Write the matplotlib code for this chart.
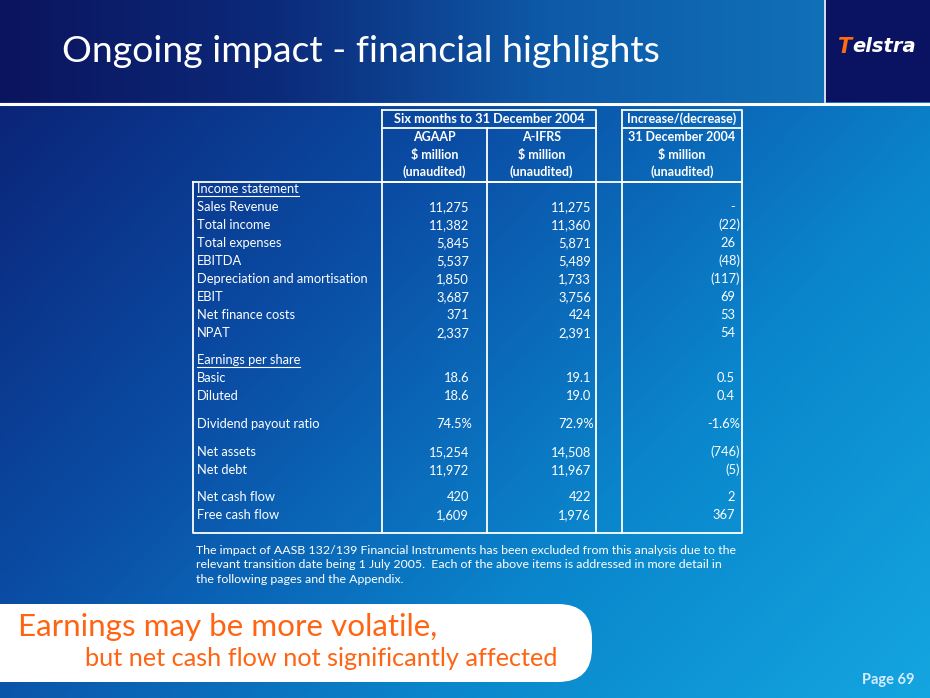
import numpy as np
import matplotlib
matplotlib.use("Agg")
import matplotlib.pyplot as plt
from matplotlib.colors import LinearSegmentedColormap
from matplotlib.patches import FancyBboxPatch, Rectangle

# ---------------- data ----------------
title = "Ongoing impact - financial highlights"
period_header = "Six months to 31 December 2004"
col_heads = [["AGAAP", "$ million", "(unaudited)"],
             ["A-IFRS", "$ million", "(unaudited)"]]
change_head = ["Increase/(decrease)", "31 December 2004", "$ million", "(unaudited)"]

labels = ["Income statement", "Sales Revenue", "Total income", "Total expenses", "EBITDA",
          "Depreciation and amortisation", "EBIT", "Net finance costs", "NPAT",
          "Earnings per share", "Basic", "Diluted", "Dividend payout ratio",
          "Net assets", "Net debt", "Net cash flow", "Free cash flow"]
section_rows = [0, 9]
agaap = ["", "11,275", "11,382", "5,845", "5,537", "1,850", "3,687", "371", "2,337",
         "", "18.6", "18.6", "74.5%", "15,254", "11,972", "420", "1,609"]
aifrs = ["", "11,275", "11,360", "5,871", "5,489", "1,733", "3,756", "424", "2,391",
         "", "19.1", "19.0", "72.9%", "14,508", "11,967", "422", "1,976"]
change = ["", "-", "(22)", "26", "(48)", "(117)", "69", "53", "54",
          "", "0.5", "0.4", "-1.6%", "(746)", "(5)", "2", "367"]

footnote = ("The impact of AASB 132/139 Financial Instruments has been excluded from this analysis due to the\n"
            "relevant transition date being 1 July 2005.  Each of the above items is addressed in more detail in\n"
            "the following pages and the Appendix.")
callout1 = "Earnings may be more volatile,"
callout2 = "but net cash flow not significantly affected"
page = "Page 69"

# ---------------- layout ----------------
W, H = 930, 698
FONT = "Lato"
fig = plt.figure(figsize=(W / 100, H / 100), dpi=100)
ax = fig.add_axes([0, 0, 1, 1])
ax.set_xlim(0, W)
ax.set_ylim(H, 0)
ax.axis("off")

# body gradient
yy, xx = np.mgrid[0:H:2, 0:W:2]
t = 0.62 * xx / W + 0.38 * (yy - 100) / (H - 100)
body_cmap = LinearSegmentedColormap.from_list("b", ["#0a2478", "#0b4ea6", "#0a86cc", "#14a6e0"])
ax.imshow(t, cmap=body_cmap, extent=[0, W, H, 0], vmin=0, vmax=1, zorder=0, aspect="auto")

# header gradient
hx = np.linspace(0, 1, 400)[None, :]
head_cmap = LinearSegmentedColormap.from_list("h", ["#0b145e", "#0c2a7a", "#0e5aa8", "#1070b8"])
ax.imshow(hx, cmap=head_cmap, extent=[0, 824, 102, 0], aspect="auto", zorder=1)
ax.add_patch(Rectangle((824, 0), W - 824, 102, facecolor="#0a1362", edgecolor="none", zorder=2))
ax.plot([824.5, 824.5], [0, 102], color="white", lw=1.2, zorder=3)
ax.plot([0, W], [104, 104], color="white", lw=2.2, zorder=3)

ax.text(62, 51, title, color="white", fontsize=26.9, family=FONT, fontweight="normal",
        va="center", ha="left", zorder=4)

fig.canvas.draw()
r = fig.canvas.get_renderer()

# logo
tT = ax.text(838, 47, "T", color="#ff6a13", fontsize=15, family="DejaVu Sans", fontweight="bold",
             style="italic", va="center", ha="left", zorder=4)
bbT = tT.get_window_extent(r)
ax.text(bbT.x1 + 0.5, 47, "elstra", color="white", fontsize=14, family="DejaVu Sans",
        fontweight="bold", style="italic", va="center", ha="left", zorder=4)

# table frame
lc = "white"
lw = 1.3
x_left, x_c1, x_c2, x_c3, x_c4, x_right = 193, 382, 487, 596, 622, 742
y_top_h, y_sub, y_body, y_bot = 110, 128, 182, 533

def box(x0, y0, x1, y1):
    ax.plot([x0, x1, x1, x0, x0], [y0, y0, y1, y1, y0], color=lc, lw=lw, zorder=5)

box(x_c1, y_top_h, x_c3, y_body)
box(x_c4, y_top_h, x_right, y_body)
ax.plot([x_c1, x_c3], [y_sub, y_sub], color=lc, lw=lw, zorder=5)
ax.plot([x_c4, x_right], [y_sub, y_sub], color=lc, lw=lw, zorder=5)
ax.plot([x_c2, x_c2], [y_sub, y_body], color=lc, lw=lw, zorder=5)
box(x_left, y_body, x_right, y_bot)
for xv in (x_c1, x_c2, x_c3, x_c4):
    ax.plot([xv, xv], [y_body, y_bot], color=lc, lw=lw, zorder=5)

hs = 9.0
ax.text((x_c1 + x_c3) / 2, 119, period_header, color="white", fontsize=hs + 0.2, family=FONT,
        fontweight="bold", ha="center", va="center", zorder=6)
head_y = [137, 155, 172]
for ci, cx in enumerate([(x_c1 + x_c2) / 2, (x_c2 + x_c3) / 2]):
    for j, s in enumerate(col_heads[ci]):
        ax.text(cx, head_y[j], s, color="white", fontsize=hs, family=FONT,
                fontweight="bold", ha="center", va="center", zorder=6)
cx = (x_c4 + x_right) / 2
for j, s in enumerate(change_head):
    ax.text(cx, ([119] + head_y)[j], s, color="white", fontsize=hs, family=FONT,
            fontweight="bold", ha="center", va="center", zorder=6)

# rows
extra_gap = {9: 9, 12: 10, 13: 10, 15: 9}
ys = []
y = 189
for i in range(len(labels)):
    if i > 0:
        y += 18 + extra_gap.get(i, 0)
    ys.append(y)

fs = 9.3
for i, lab in enumerate(labels):
    yv = ys[i]
    tl = ax.text(197, yv, lab, color="white", fontsize=fs, family=FONT, ha="left",
                 va="center", zorder=6)
    if i in section_rows:
        bb = tl.get_window_extent(r)
        ax.plot([197, 197 + bb.width], [yv + 6.5, yv + 6.5], color="white", lw=0.8, zorder=6)
    for vals, xr in ((agaap, 469), (aifrs, 591)):
        s = vals[i]
        if s:
            xx_ = xr + 3 if s.endswith("%") else xr
            ax.text(xx_, yv, s, color="white", fontsize=fs, family=FONT, ha="right",
                    va="center", zorder=6)
    c = change[i]
    if c:
        xr = 740 if (c.endswith(")") or c.endswith("%")) else 735
        ax.text(xr, yv, c, color="white", fontsize=fs, family=FONT, ha="right", va="center", zorder=6)

# footnote
ax.text(196, 565, footnote, color="white", fontsize=8.95, family=FONT, ha="left", va="center",
        linespacing=1.4, zorder=6)

# callout
ax.add_patch(FancyBboxPatch((-40, 604), 632, 78, boxstyle="round,pad=0,rounding_size=34",
                            facecolor="white", edgecolor="none", zorder=6))
ax.text(18, 627, callout1, color="#ff6412", fontsize=22.6, family=FONT, ha="left",
        va="center", zorder=7)
ax.text(85, 658, callout2, color="#ff6412", fontsize=18.2, family=FONT, fontweight="normal",
        ha="left", va="center", zorder=7)

ax.text(914, 680, page, color="#d8ecff", fontsize=10.5, family=FONT, fontweight="bold",
        ha="right", va="center", zorder=7)

fig.savefig("out.png", dpi=100)
